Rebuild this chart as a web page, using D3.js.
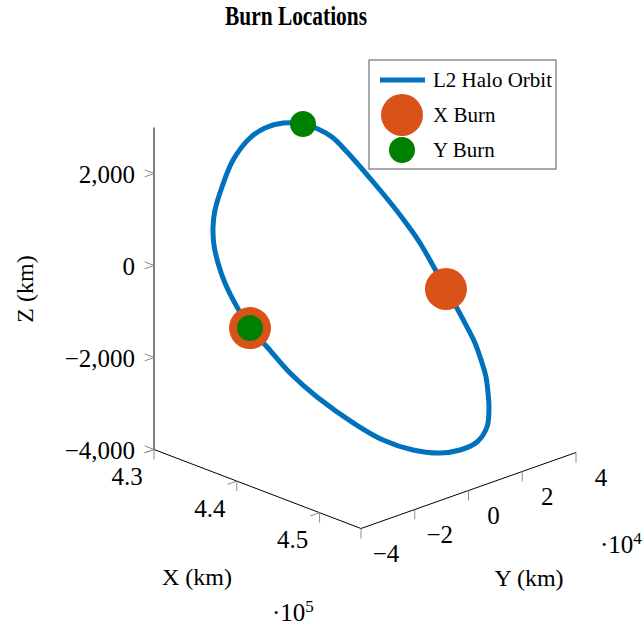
<!DOCTYPE html>
<html>
<head>
<meta charset="utf-8">
<script src="https://cdn.jsdelivr.net/npm/d3@7"></script>
<style>
body{margin:0;background:#fff;}
text{font-family:"Liberation Serif","Times New Roman",serif;fill:#000;}
</style>
</head>
<body>
<div id="canvas"></div>
<script>
// L2 halo orbit samples (km)
var orbitX = [436500,436970,437480,438170,438950,439790,440660,441300,441920,442890,
              443560,444310,444910,445450,445980,446470,446880,447210,447610,447780,
              447870,447730,447050,446200,445050,443360,441760,440640,439810,439030,
              438210,437600,437100,436680,436350,436000,435660,435560,435690,436010];
var orbitY = [-4590,-450,3200,6650,10210,13920,17560,20060,22250,25030,
              26860,29010,30540,31830,32460,32790,32280,31620,29650,25400,
              18810,11790,3840,-4690,-11560,-20500,-25620,-30700,-34500,-36940,
              -38880,-39600,-39560,-38620,-36860,-33180,-28020,-21420,-16240,-10510];
var orbitZ = [2791,2629,2414,2065,1653,1200,729,374,23,-555,
              -960,-1409,-1770,-2107,-2454,-2796,-3105,-3373,-3739,-3966,
              -3998,-3928,-3745,-3410,-3000,-2344,-1827,-1233,-799,-345,
              160,569,925,1267,1577,1978,2434,2770,2890,2901];

// burn locations (km)
var xBurnX = [443560, 439810], xBurnY = [26860, -34500], xBurnZ = [-960, -799];
var yBurnX = [436500, 439810], yBurnY = [-4590, -34500], yBurnZ = [2791, -799];

var xTicks = [430000, 440000, 450000];
var yTicks = [-40000, -20000, 0, 20000, 40000];
var zTicks = [-4000, -2000, 0, 2000];
var legendLabels = ['L2 Halo Orbit', 'X Burn', 'Y Burn'];

var blue = '#0072bd', orange = '#d95319', green = '#008000';

var W = 644, H = 627;
var svg = d3.select('#canvas').append('svg').attr('width', W).attr('height', H);

// screen position of box corner (xmin,ymin,zmin) and the three axis vectors
var O = [154, 449.5],
    ex = [207, 79], ey = [215, -76], ez = [0, -322];

var sx = d3.scaleLinear().domain([430000, 455000]).range([0, 1]);
var sy = d3.scaleLinear().domain([-40000, 40000]).range([0, 1]);
var sz = d3.scaleLinear().domain([-4000, 3000]).range([0, 1]);

function proj(x, y, z){
    var a = sx(x), b = sy(y), c = sz(z);
    return [O[0] + a*ex[0] + b*ey[0] + c*ez[0],
            O[1] + a*ex[1] + b*ey[1] + c*ez[1]];
}
function unit(v){ var l = Math.hypot(v[0], v[1]); return [v[0]/l, v[1]/l]; }

var X0 = sx.domain()[0], X1 = sx.domain()[1],
    Y0 = sy.domain()[0], Y1 = sy.domain()[1],
    Z0 = sz.domain()[0], Z1 = sz.domain()[1];

// title
svg.append('text').attr('x', 296).attr('y', 25)
    .attr('text-anchor', 'middle')
    .style('font-size', '28px').style('font-weight', 'bold')
    .attr('textLength', 142).attr('lengthAdjust', 'spacingAndGlyphs')
    .text('Burn Locations');

// axis lines
var axes = svg.append('g');
[[[X0,Y0,Z0],[X0,Y0,Z1]], [[X0,Y0,Z0],[X1,Y0,Z0]], [[X1,Y0,Z0],[X1,Y1,Z0]]].forEach(function(s){
    var p = proj.apply(null, s[0]), q = proj.apply(null, s[1]);
    axes.append('line').attr('x1', p[0]).attr('y1', p[1]).attr('x2', q[0]).attr('y2', q[1])
        .attr('stroke', '#000').attr('stroke-width', 1);
});

var tl = 10,
    nx = unit(ex), ny = unit(ey), nz = unit(ez);
function tick(p, dir){
    axes.append('line').attr('x1', p[0]).attr('y1', p[1])
        .attr('x2', p[0] + dir[0]*tl).attr('y2', p[1] + dir[1]*tl)
        .attr('stroke', '#8c8c8c').attr('stroke-width', 1);
}

// z ticks
zTicks.forEach(function(d){
    var p = proj(X0, Y0, d);
    tick(p, [-nx[0], -nx[1]]);
    tick(p, [-ny[0], -ny[1]]);
    axes.append('text').attr('x', 135).attr('y', p[1] + 1)
        .attr('text-anchor', 'end').attr('dominant-baseline', 'central')
        .style('font-size', '25px').text(d3.format(',')(d));
});

// x ticks
xTicks.forEach(function(d){
    var p = proj(d, Y0, Z0);
    tick(p, [-ny[0], -ny[1]]);
    tick(p, [-nz[0], -nz[1]]);
    axes.append('text').attr('x', p[0] - 27).attr('y', p[1] + 27)
        .attr('text-anchor', 'middle').attr('dominant-baseline', 'central')
        .style('font-size', '25px').text(d3.format('.1f')(d / 1e5));
});

// y ticks
yTicks.forEach(function(d){
    var p = proj(X1, d, Z0);
    tick(p, [-nz[0], -nz[1]]);
    axes.append('text').attr('x', p[0] + 25).attr('y', p[1] + 25)
        .attr('text-anchor', 'middle').attr('dominant-baseline', 'central')
        .style('font-size', '25px').text(d3.format('d')(d / 1e4));
});

// multipliers
var m5 = axes.append('text').attr('x', 272).attr('y', 621).style('font-size', '25px');
m5.append('tspan').text('\u00b710');
m5.append('tspan').attr('dy', -9).style('font-size', '17px').text('5');
var m4 = axes.append('text').attr('x', 600).attr('y', 553).style('font-size', '25px');
m4.append('tspan').text('\u00b710');
m4.append('tspan').attr('dy', -9).style('font-size', '17px').text('4');

// axis labels
axes.append('text').attr('x', 197).attr('y', 585).attr('text-anchor', 'middle')
    .style('font-size', '24px').text('X (km)');
axes.append('text').attr('x', 529).attr('y', 586).attr('text-anchor', 'middle')
    .style('font-size', '24px').text('Y (km)');
axes.append('text').attr('transform', 'translate(33,289) rotate(-90)')
    .attr('text-anchor', 'middle').style('font-size', '24px').text('Z (km)');

// orbit
var pts = orbitX.map(function(d, i){ return proj(d, orbitY[i], orbitZ[i]); });
var line = d3.line().curve(d3.curveCatmullRomClosed.alpha(0.5));
svg.append('path').attr('d', line(pts))
    .attr('fill', 'none').attr('stroke', blue).attr('stroke-width', 5)
    .attr('stroke-linejoin', 'round');

// burns
svg.selectAll('.xburn').data(xBurnX).enter().append('circle').attr('class', 'xburn')
    .attr('cx', function(d, i){ return proj(d, xBurnY[i], xBurnZ[i])[0]; })
    .attr('cy', function(d, i){ return proj(d, xBurnY[i], xBurnZ[i])[1]; })
    .attr('r', 21).attr('fill', orange);
svg.selectAll('.yburn').data(yBurnX).enter().append('circle').attr('class', 'yburn')
    .attr('cx', function(d, i){ return proj(d, yBurnY[i], yBurnZ[i])[0]; })
    .attr('cy', function(d, i){ return proj(d, yBurnY[i], yBurnZ[i])[1]; })
    .attr('r', 13).attr('fill', green);

// legend
var lg = svg.append('g');
lg.append('rect').attr('x', 369).attr('y', 60).attr('width', 187).attr('height', 109)
    .attr('fill', '#fff').attr('stroke', '#555').attr('stroke-width', 1);
lg.append('line').attr('x1', 380).attr('y1', 80).attr('x2', 425).attr('y2', 80)
    .attr('stroke', blue).attr('stroke-width', 5);
lg.append('circle').attr('cx', 402).attr('cy', 115).attr('r', 21).attr('fill', orange);
lg.append('circle').attr('cx', 402).attr('cy', 150).attr('r', 13).attr('fill', green);
legendLabels.forEach(function(t, i){
    lg.append('text').attr('x', 433).attr('y', [87, 122, 157][i])
        .style('font-size', '21px').text(t);
});
</script>
</body>
</html>
